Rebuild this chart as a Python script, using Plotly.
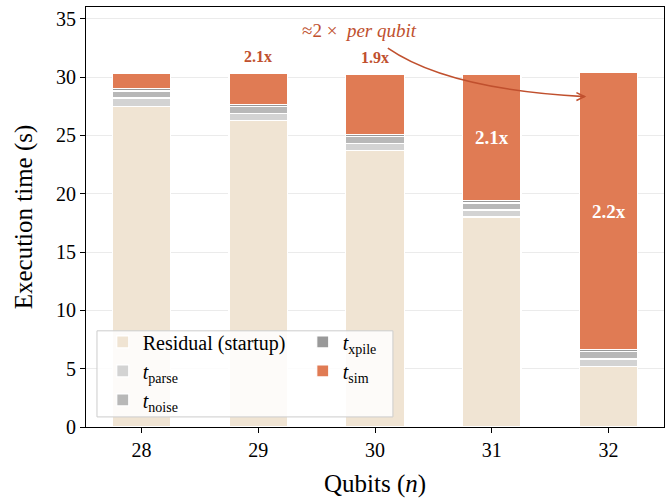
import plotly.graph_objects as go

qubits = [28, 29, 30, 31, 32]
residual = [27.5, 26.3, 23.7, 18.0, 5.2]
t_parse = [0.7, 0.6, 0.6, 0.6, 0.63]
t_noise = [0.6, 0.6, 0.6, 0.6, 0.63]
t_xpile = [0.22, 0.17, 0.2, 0.2, 0.15]
t_sim = [1.26, 2.66, 5.15, 10.85, 23.8]
ratio_labels = ["", "2.1x", "1.9x", "2.1x", "2.2x"]

C_RES = "#f0e4d3"
C_PARSE = "#d3d3d3"
C_NOISE = "#b8b8b8"
C_XPILE = "#999999"
C_SIM = "#e07b54"
C_TXT = "#c0502e"
FONT = "Liberation Serif"

fig = go.Figure()
series = [
    ("Residual (startup)", residual, C_RES, "legend"),
    ("<i>t</i><sub>parse</sub>", t_parse, C_PARSE, "legend"),
    ("<i>t</i><sub>noise</sub>", t_noise, C_NOISE, "legend"),
    ("<i>t</i><sub>xpile</sub>", t_xpile, C_XPILE, "legend2"),
    ("<i>t</i><sub>sim</sub>", t_sim, C_SIM, "legend2"),
]
for name, vals, col, leg in series:
    fig.add_trace(go.Bar(
        x=qubits, y=vals, name=name, width=0.5, legend=leg,
        marker=dict(color=col, line=dict(color="white", width=1.2)),
    ))

# ratio labels
for i, q in enumerate(qubits):
    if not ratio_labels[i]:
        continue
    base = residual[i] + t_parse[i] + t_noise[i] + t_xpile[i]
    total = base + t_sim[i]
    if t_sim[i] > 8:
        fig.add_annotation(x=q, y=base + t_sim[i] / 2, text="<b>%s</b>" % ratio_labels[i],
                           showarrow=False, font=dict(family=FONT, size=19, color="white"))
    else:
        fig.add_annotation(x=q, y=total + 1.4, text="<b>%s</b>" % ratio_labels[i],
                           showarrow=False, font=dict(family=FONT, size=16, color=C_TXT))

# "≈2× per qubit" annotation with curved arrow
fig.add_annotation(x=29.87, y=34.0, text="≈2 ×  <i>per qubit</i>", showarrow=False,
                   font=dict(family=FONT, size=19, color=C_TXT))
ARROW_START = (30.11, 32.48)
ARROW_CTRL = (30.62, 28.95)
ARROW_END = (31.794, 28.32)
HEAD_A = (31.725, 28.66)
HEAD_B = (31.725, 27.98)
fig.add_shape(type="path", xref="x", yref="y",
              path="M %f,%f Q %f,%f %f,%f" % (*ARROW_START, *ARROW_CTRL, *ARROW_END),
              line=dict(color=C_TXT, width=1.6))
fig.add_shape(type="path", xref="x", yref="y",
              path="M %f,%f L %f,%f L %f,%f" % (*HEAD_A, *ARROW_END, *HEAD_B),
              line=dict(color=C_TXT, width=1.6))

# legend frame (holds both legend columns)
fig.add_shape(type="rect", xref="paper", yref="paper", x0=0.019, x1=0.531, y0=0.024, y1=0.229,
              fillcolor="rgba(255,255,255,0.85)", line=dict(color="#cccccc", width=1), layer="above")

leg_common = dict(bgcolor="rgba(0,0,0,0)", borderwidth=0, font=dict(family=FONT, size=20),
                  orientation="v", yanchor="top", xanchor="left", tracegroupgap=0)

fig.update_layout(
    barmode="stack",
    width=669, height=499,
    margin=dict(l=86, r=5, t=7, b=72),
    plot_bgcolor="white", paper_bgcolor="white",
    font=dict(family=FONT, size=20, color="black"),
    showlegend=True,
    legend=dict(x=0.029, y=0.249, traceorder="normal", **leg_common),
    legend2=dict(x=0.375, y=0.249, traceorder="normal", **leg_common),
    xaxis=dict(
        range=[27.525, 32.475], tickvals=qubits, ticktext=[str(q) for q in qubits],
        showline=True, linecolor="black", linewidth=1, mirror=True, automargin=False,
        ticks="outside", ticklen=5, tickcolor="black", showgrid=False,
        title=dict(text="Qubits (<i>n</i>)", font=dict(size=25), standoff=14),
        tickfont=dict(size=20),
    ),
    yaxis=dict(
        range=[0, 36], tickvals=[0, 5, 10, 15, 20, 25, 30, 35], automargin=False,
        showline=True, linecolor="black", linewidth=1, mirror=True,
        ticks="outside", ticklen=5, tickcolor="black",
        showgrid=True, gridcolor="#ebebeb", gridwidth=1, zeroline=False,
        title=dict(text="Execution time (s)", font=dict(size=25), standoff=16),
        tickfont=dict(size=20),
    ),
)

fig.write_html("out.html", config={"displayModeBar": False},
               post_script="document.body.style.margin='0px';")
